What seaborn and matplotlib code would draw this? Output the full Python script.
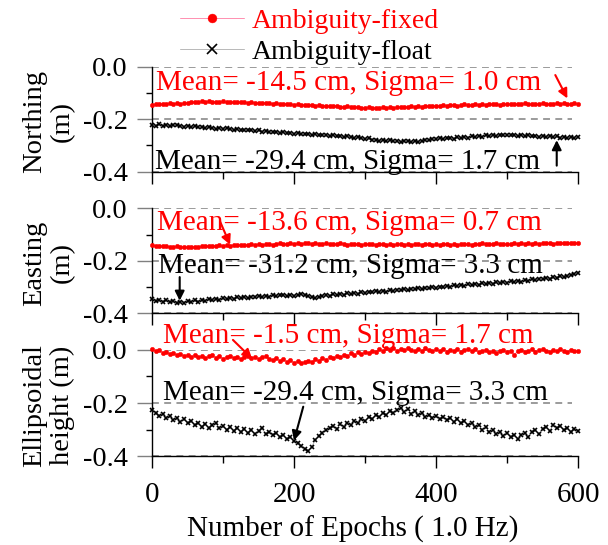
import matplotlib
matplotlib.use("Agg")
import matplotlib.pyplot as plt
import seaborn as sns

# ---------------- data (metres), one sample every 5 epochs ----------------
epochs = list(range(0, 601, 5))

north_fixed = [
    -0.145, -0.142, -0.144, -0.141, -0.143, -0.140, -0.142, -0.139, -0.141, -0.138, -0.137,
    -0.135, -0.133, -0.136, -0.132, -0.134, -0.131, -0.135, -0.133, -0.136, -0.132, -0.134, -0.133, -0.136, -0.134, -0.135,
    -0.136, -0.137, -0.135, -0.138, -0.137, -0.139, -0.138, -0.140, -0.141, -0.139, -0.142, -0.143, -0.141, -0.144, -0.145, -0.143, -0.146, -0.145,
    -0.147, -0.145, -0.148, -0.146, -0.149, -0.148, -0.150, -0.151, -0.149, -0.152, -0.153, -0.151, -0.154, -0.155, -0.153, -0.156, -0.157, -0.155, -0.158,
    -0.156, -0.158, -0.155, -0.157, -0.154, -0.156, -0.153, -0.155, -0.152, -0.154, -0.151, -0.153, -0.150, -0.152, -0.149, -0.151, -0.148, -0.150,
    -0.148, -0.146, -0.149, -0.147, -0.145, -0.148, -0.146, -0.144, -0.147, -0.145, -0.143, -0.146, -0.144, -0.145, -0.142, -0.144, -0.143, -0.145, -0.142, -0.144,
    -0.142, -0.144, -0.141, -0.143, -0.140, -0.142, -0.144, -0.141, -0.143, -0.140, -0.142, -0.141, -0.143, -0.140, -0.142, -0.139, -0.141, -0.143, -0.140, -0.142,
]
north_float = [
    -0.222, -0.226, -0.220, -0.225, -0.223, -0.227, -0.224, -0.221, -0.226, -0.228, -0.225,
    -0.229, -0.227, -0.231, -0.230, -0.233, -0.231, -0.234, -0.236, -0.233, -0.237, -0.235, -0.238, -0.240, -0.237, -0.241,
    -0.240, -0.243, -0.241, -0.245, -0.243, -0.247, -0.244, -0.248, -0.250, -0.247, -0.251, -0.249, -0.253, -0.251, -0.255, -0.253, -0.256, -0.258,
    -0.256, -0.259, -0.257, -0.261, -0.259, -0.262, -0.264, -0.261, -0.265, -0.263, -0.267, -0.265, -0.269, -0.271, -0.268, -0.273, -0.275, -0.272, -0.278,
    -0.279, -0.282, -0.280, -0.284, -0.281, -0.285, -0.283, -0.286, -0.282, -0.285, -0.287, -0.284, -0.286, -0.282, -0.279, -0.281, -0.277, -0.275,
    -0.273, -0.276, -0.272, -0.270, -0.274, -0.269, -0.271, -0.267, -0.270, -0.266, -0.268, -0.264, -0.267, -0.262, -0.265, -0.261, -0.263, -0.259, -0.262, -0.260,
    -0.262, -0.259, -0.263, -0.261, -0.265, -0.262, -0.266, -0.264, -0.268, -0.265, -0.267, -0.264, -0.269, -0.266, -0.270, -0.267, -0.271, -0.268, -0.270, -0.269,
]
east_fixed = [
    -0.141, -0.143, -0.142, -0.145, -0.144, -0.146, -0.147, -0.145, -0.148, -0.147, -0.149,
    -0.148, -0.146, -0.147, -0.145, -0.143, -0.145, -0.142, -0.144, -0.141, -0.143, -0.140, -0.142, -0.139, -0.141, -0.140,
    -0.138, -0.140, -0.137, -0.139, -0.136, -0.138, -0.137, -0.135, -0.138, -0.136, -0.134, -0.137, -0.135, -0.133, -0.136, -0.134, -0.135, -0.133,
    -0.134, -0.136, -0.133, -0.135, -0.137, -0.134, -0.136, -0.135, -0.137, -0.134, -0.136, -0.138, -0.135, -0.137, -0.136, -0.138, -0.135, -0.137, -0.136,
    -0.138, -0.136, -0.137, -0.139, -0.136, -0.138, -0.137, -0.135, -0.138, -0.136, -0.139, -0.137, -0.135, -0.138, -0.136, -0.137, -0.139, -0.136,
    -0.138, -0.136, -0.137, -0.139, -0.136, -0.138, -0.135, -0.137, -0.136, -0.138, -0.135, -0.137, -0.134, -0.136, -0.135, -0.137, -0.134, -0.136, -0.135, -0.137,
    -0.135, -0.134, -0.136, -0.133, -0.135, -0.134, -0.136, -0.133, -0.135, -0.132, -0.134, -0.133, -0.135, -0.132, -0.134, -0.133, -0.131, -0.134, -0.132, -0.133,
]
east_float = [
    -0.347, -0.352, -0.349, -0.355, -0.351, -0.357, -0.353, -0.359, -0.355, -0.360, -0.354,
    -0.356, -0.351, -0.355, -0.349, -0.352, -0.347, -0.350, -0.345, -0.348, -0.343, -0.346, -0.341, -0.344, -0.339, -0.342,
    -0.338, -0.341, -0.336, -0.339, -0.334, -0.337, -0.333, -0.336, -0.331, -0.335, -0.332, -0.329, -0.333, -0.330, -0.334, -0.331, -0.328, -0.332,
    -0.335, -0.339, -0.342, -0.337, -0.334, -0.330, -0.333, -0.328, -0.331, -0.326, -0.329, -0.324, -0.327, -0.322, -0.325, -0.320, -0.323, -0.318, -0.320,
    -0.316, -0.319, -0.314, -0.317, -0.312, -0.315, -0.310, -0.313, -0.308, -0.311, -0.306, -0.309, -0.304, -0.307, -0.302, -0.305, -0.300, -0.303,
    -0.298, -0.301, -0.296, -0.299, -0.294, -0.297, -0.292, -0.295, -0.290, -0.293, -0.288, -0.291, -0.286, -0.289, -0.284, -0.287, -0.282, -0.285, -0.280, -0.283,
    -0.278, -0.281, -0.276, -0.279, -0.273, -0.276, -0.271, -0.274, -0.268, -0.271, -0.265, -0.268, -0.262, -0.265, -0.259, -0.262, -0.256, -0.253, -0.251, -0.248,
]
height_fixed = [
    0.002, -0.004, -0.001, -0.010, -0.006, -0.015, -0.011, -0.019, -0.014, -0.022, -0.018,
    -0.025, -0.019, -0.028, -0.022, -0.031, -0.024, -0.020, -0.029, -0.023, -0.033, -0.026, -0.021, -0.030, -0.025, -0.034,
    -0.027, -0.022, -0.031, -0.026, -0.035, -0.028, -0.024, -0.033, -0.038, -0.030, -0.041, -0.035, -0.045, -0.039, -0.048, -0.042, -0.050, -0.044,
    -0.040, -0.046, -0.035, -0.041, -0.030, -0.036, -0.026, -0.031, -0.021, -0.027, -0.017, -0.023, -0.013, -0.019, -0.009, -0.015, -0.006, -0.011, -0.003,
    -0.008, 0.002, -0.004, 0.006, 0.000, 0.008, -0.003, 0.005, -0.001, 0.007, 0.001, -0.005, 0.004, -0.002, 0.006, 0.000, -0.004, 0.003,
    -0.002, 0.004, -0.006, 0.001, -0.003, 0.005, -0.008, -0.001, 0.003, -0.005, 0.002, -0.009, -0.003, 0.001, -0.006, -0.002, -0.011, -0.004, 0.000, -0.007,
    -0.003, -0.018, -0.005, 0.001, -0.008, -0.002, 0.003, -0.006, -0.001, 0.004, -0.004, -0.009, 0.000, -0.005, 0.002, -0.003, -0.007, 0.001, -0.004, -0.002,
]
height_float = [
    -0.228, -0.236, -0.248, -0.241, -0.257, -0.250, -0.263, -0.258, -0.271, -0.262, -0.276,
    -0.268, -0.283, -0.275, -0.290, -0.279, -0.294, -0.284, -0.277, -0.296, -0.288, -0.301, -0.290, -0.305, -0.294, -0.309,
    -0.299, -0.313, -0.302, -0.318, -0.306, -0.296, -0.316, -0.309, -0.322, -0.313, -0.329, -0.320, -0.336, -0.327, -0.344, -0.352, -0.362, -0.372,
    -0.381, -0.365, -0.340, -0.324, -0.312, -0.302, -0.295, -0.287, -0.298, -0.281, -0.290, -0.274, -0.283, -0.267, -0.276, -0.260, -0.268, -0.252, -0.259,
    -0.246, -0.253, -0.238, -0.245, -0.231, -0.239, -0.226, -0.218, -0.233, -0.222, -0.240, -0.231, -0.247, -0.238, -0.252, -0.244, -0.256, -0.249,
    -0.260, -0.251, -0.264, -0.256, -0.270, -0.261, -0.276, -0.268, -0.284, -0.275, -0.292, -0.283, -0.301, -0.292, -0.310, -0.301, -0.318, -0.309, -0.326, -0.315,
    -0.330, -0.319, -0.334, -0.322, -0.315, -0.328, -0.310, -0.303, -0.318, -0.297, -0.290, -0.305, -0.284, -0.296, -0.288, -0.302, -0.293, -0.308, -0.297, -0.305,
]

panel_labels = ["Northing\n(m)", "Easting\n(m)", "Ellipsoidal\nheight (m)"]
fixed_notes = ["Mean= -14.5 cm, Sigma= 1.0 cm", "Mean= -13.6 cm, Sigma= 0.7 cm",
               "Mean= -1.5 cm, Sigma= 1.7 cm"]
float_notes = ["Mean= -29.4 cm, Sigma= 1.7 cm", "Mean= -31.2 cm, Sigma= 3.3 cm",
               "Mean= -29.4 cm, Sigma= 3.3 cm"]
series_names = ["Ambiguity-fixed", "Ambiguity-float"]
xlabel = "Number of Epochs ( 1.0 Hz)"
xticks = [0, 200, 400, 600]
xticklabels = ["0", "200", "400", "600"]
yticks = [-0.4, -0.2, 0.0]
yticklabels = ["-0.4", "-0.2", "0.0"]

fixed_series = [north_fixed, east_fixed, height_fixed]
float_series = [north_float, east_float, height_float]
for s in fixed_series + float_series:
    assert len(s) == len(epochs), len(s)

# ---------------- style ----------------
sns.set_theme(style="ticks")
plt.rcParams["font.family"] = ["Liberation Serif", "DejaVu Serif"]
plt.rcParams["axes.unicode_minus"] = False

fig = plt.figure(figsize=(6.08, 5.45), dpi=100)
left, width = 0.2500, 0.7007
boxes = [(0.6850, 0.1927), (0.4251, 0.1927), (0.1633, 0.1945)]

# text layout: (x, y) for fixed text, float text; arrows tail -> head
fixed_text_pos = [(6, -0.089), (7, -0.083), (16, 0.025)]
float_text_pos = [(4, -0.389), (9, -0.248), (16, -0.189)]
fixed_arrows = [((568, -0.032), (585, -0.121)), ((96, -0.051), (110, -0.139)),
                ((114, 0.038), (141, -0.033))]
float_arrows = [((570, -0.377), (570, -0.280)), ((39, -0.262), (39, -0.352)),
                ((213, -0.214), (200, -0.342))]

RED = "#ff0000"
PINK = "#ff8fb0"
GRAY = "#b8b8b8"
handles = []
for i in range(3):
    b, h = boxes[i]
    ax = fig.add_axes([left, b, width, h])
    ax.set_facecolor("none")
    for y in yticks:
        ax.axhline(y, xmin=0, xmax=0.985, color="#808080", lw=1.1,
                   ls=(0, (4.5, 3.5)), zorder=0)
    sns.lineplot(x=epochs, y=fixed_series[i], ax=ax, color=PINK, lw=0.7,
                 marker="o", markersize=3.2, markerfacecolor=RED,
                 markeredgecolor=RED, mew=0.3, errorbar=None, clip_on=False,
                 zorder=3)
    l_fixed = ax.lines[-1]
    sns.lineplot(x=epochs, y=float_series[i], ax=ax, color=GRAY, lw=0.7,
                 marker="x", markersize=3.4, markeredgecolor="black",
                 mew=1.2, errorbar=None, clip_on=False, zorder=3)
    l_float = ax.lines[-1]
    if i == 0:
        handles = [l_fixed, l_float]

    ax.set_xlim(0, 600)
    ax.set_ylim(-0.4, 0.0)
    ax.set_xticks(xticks)
    ax.set_xticks([100, 300, 500], minor=True)
    ax.set_yticks(yticks)
    ax.set_yticks([-0.3, -0.1], minor=True)
    ax.set_yticklabels(yticklabels)
    if i == 2:
        ax.set_xticklabels(xticklabels)
        ax.set_xlabel(xlabel, fontsize=21, color="black")
        ax.xaxis.set_label_coords(0.4707, -0.56)
    else:
        ax.set_xticklabels([])
    for side in ["top", "right"]:
        ax.spines[side].set_visible(False)
    for side in ["left", "bottom"]:
        ax.spines[side].set_color("black")
        ax.spines[side].set_linewidth(1.0)
    ax.tick_params(axis="x", which="major", direction="out", length=8.6,
                   width=1, color="black", labelsize=21, labelcolor="black", pad=10)
    ax.tick_params(axis="x", which="minor", direction="out", length=5,
                   width=1, color="black")
    ax.tick_params(axis="y", which="major", direction="out", length=10.8,
                   width=1, color="#808080", labelsize=20.5, labelcolor="black", pad=6.5)
    ax.tick_params(axis="y", which="minor", direction="out", length=4.3,
                   width=1, color="black")
    ax.set_ylabel(panel_labels[i], fontsize=20.5, color="black",
                  linespacing=1.15)
    ax.yaxis.set_label_coords(-0.181, 0.48)

    ax.text(*fixed_text_pos[i], fixed_notes[i], color=RED, fontsize=21,
            ha="left", va="baseline", zorder=5)
    ax.text(*float_text_pos[i], float_notes[i], color="black", fontsize=21,
            ha="left", va="baseline", zorder=5)
    (t0, h0), = [fixed_arrows[i]]
    ax.annotate("", xy=h0, xytext=t0, annotation_clip=False,
                arrowprops=dict(arrowstyle="-|>", color=RED, lw=1.5,
                                mutation_scale=14, shrinkA=0, shrinkB=0))
    (t1, h1), = [float_arrows[i]]
    ax.annotate("", xy=h1, xytext=t1, annotation_clip=False,
                arrowprops=dict(arrowstyle="-|>", color="black", lw=1.5,
                                mutation_scale=14, shrinkA=0, shrinkB=0))

fig.legend(handles=handles, labels=series_names, loc="upper left",
           bbox_to_anchor=(0.296, 0.984), frameon=False, fontsize=20,
           handlelength=2.3, handletextpad=0.3, labelspacing=0.2,
           borderpad=0, borderaxespad=0, markerscale=2.0,
           labelcolor=[RED, "black"])

fig.savefig("out.png", dpi=100)
